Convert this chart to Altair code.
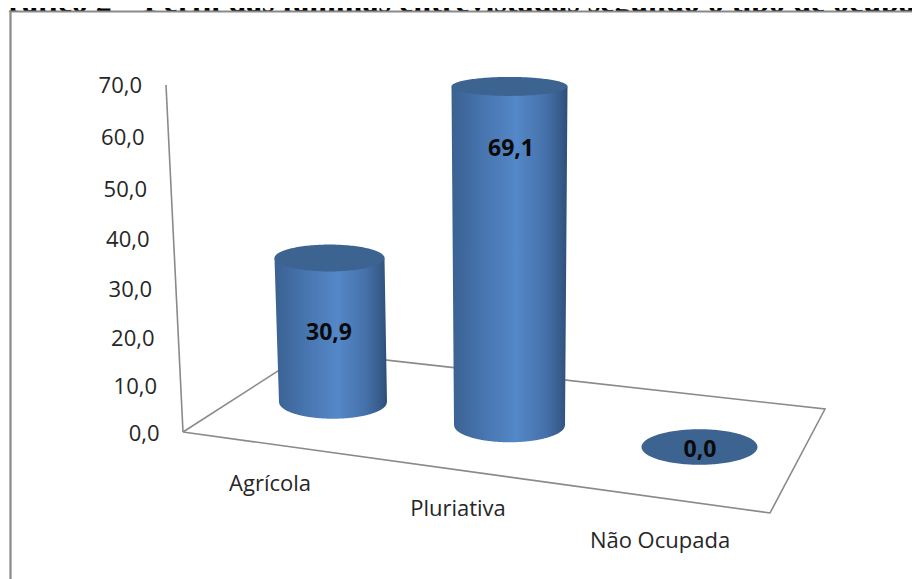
import altair as alt
import numpy as np
import pandas as pd

# ---- chart values
TITLE = "Gráfico 2 – Perfil das famílias entrevistadas segundo o tipo de ocupação"
categories = ["Agrícola", "Pluriativa", "Não Ocupada"]
values = [30.9, 69.1, 0.0]
value_labels = ["30,9", "69,1", "0,0"]
tick_values = [0, 10, 20, 30, 40, 50, 60, 70]
tick_labels = ["0,0", "10,0", "20,0", "30,0", "40,0", "50,0", "60,0", "70,0"]

# ---- page geometry of the oblique 3-D view
SANS = "Open Sans"
base_x = [333, 509.5, 699.5]
base_y = [402, 425, 447]
unit_px = [4.66, 4.9, 4.9]
lean_x = [-3.5, 0, 0]
rx_base = [54, 55.5, 58]
rx_top = [55, 58, 58]
cat_label_xy = [(270, 484), (458, 509), (660, 541)]
label_xy = [(329, 333), (511, 149), (700, 450)]

def ry_at(y):
    return 7.5 + 0.023 * y

def axis_y(v):
    return 434 - 4.671 * v - 0.00429 * v * v

X = alt.X("x:Q", scale=alt.Scale(domain=[8, 912], nice=False, zero=False), axis=None)
Y = alt.Y("y:Q", scale=alt.Scale(domain=[579, 8], nice=False, zero=False), axis=None)
Y2 = alt.Y2("y2:Q")

stops = [("#3a6191", 0), ("#4673ad", 0.25), ("#5488c8", 0.56), ("#4672ab", 0.8),
         ("#385e8f", 0.93), ("#2e4e76", 1)]
body_fill = alt.Gradient(gradient="linear", x1=0, x2=1, y1=0, y2=0,
                         stops=[alt.GradientStop(color=c, offset=o) for c, o in stops])
CAP = "#3d6391"
GREY = "#8a8a8a"


def ellipse_frame(cx, cy, rx, ry):
    t = np.linspace(np.pi, 0, 90)
    xs = cx + rx * np.cos(t)
    h = ry * np.sin(t)
    return pd.DataFrame({"x": xs, "y": cy - h, "y2": cy + h})


def body_frame(i):
    by = base_y[i]
    ty = by - values[i] * unit_px[i]
    tx = base_x[i] + lean_x[i]
    tl, tr = tx - rx_top[i], tx + rx_top[i]
    bl, br = base_x[i] - rx_base[i], base_x[i] + rx_base[i]
    xs = np.unique(np.concatenate([np.linspace(min(tl, bl), max(tr, br), 160), [tl, tr, bl, br]]))
    ry = ry_at(by)
    up, low = [], []
    for x in xs:
        u = ty
        if x < tl:
            u = ty + (by - ty) * (tl - x) / (tl - bl)
        elif x > tr:
            u = ty + (by - ty) * (x - tr) / (br - tr)
        if x < bl:
            l = ty + (by - ty) * (x - tl) / (bl - tl)
        elif x > br:
            l = ty + (by - ty) * (tr - x) / (tr - br)
        else:
            l = by + ry * np.sqrt(max(0, 1 - ((x - base_x[i]) / rx_base[i]) ** 2))
        up.append(u)
        low.append(l)
    return pd.DataFrame({"x": xs, "y": up, "y2": low})


layers = []

# title (runs off the top of the picture, cut by the frame)
layers.append(
    alt.Chart(pd.DataFrame({"x": [-17], "y": [11.5], "t": [TITLE]}))
    .mark_text(font="Liberation Serif", fontWeight="bold", fontSize=32, align="left",
               baseline="alphabetic", color="#000000")
    .encode(x=X, y=Y, text="t:N")
)

# white inside of the frame, so the title's descenders stop at the frame
layers.append(
    alt.Chart(pd.DataFrame({"x": [8], "x2": [912], "y": [11.5], "y2": [579]}))
    .mark_rect(color="white")
    .encode(x=X, x2="x2:Q", y=Y, y2=Y2)
)

# outer frame, wall axis and floor
fl, fr, br, bl = (183, 432), (770, 513), (825, 409), (308.5, 351.4)
frame_pts = [(10.5, 579), (10.5, 11.5), (912, 11.5)]
wall = [(166, 85), (183, 432)]
floor = [fl, fr, br, bl, fl]
frame = pd.DataFrame([{"x": p[0], "y": p[1], "s": "frame", "o": k} for k, p in enumerate(frame_pts)])
layers.append(
    alt.Chart(frame).mark_line(color=GREY, strokeWidth=2.2)
    .encode(x=X, y=Y, detail="s:N", order="o:Q")
)
seg = pd.DataFrame(
    [{"x": p[0], "y": p[1], "s": "wall", "o": k} for k, p in enumerate(wall)]
    + [{"x": p[0], "y": p[1], "s": "floor", "o": k} for k, p in enumerate(floor)]
)
layers.append(
    alt.Chart(seg).mark_line(color=GREY, strokeWidth=1.6)
    .encode(x=X, y=Y, detail="s:N", order="o:Q")
)

# cylinders
for i, v in enumerate(values):
    if v > 0:
        layers.append(
            alt.Chart(body_frame(i)).mark_area(color=body_fill, orient="vertical")
            .encode(x=X, y=Y, y2=Y2)
        )
    ty = base_y[i] - v * unit_px[i]
    layers.append(
        alt.Chart(ellipse_frame(base_x[i] + lean_x[i], ty, rx_top[i], ry_at(ty)))
        .mark_area(color=CAP, orient="vertical")
        .encode(x=X, y=Y, y2=Y2)
    )

# value-axis labels
ticks = pd.DataFrame({
    "x": [159.5 - 17.5 * v / 70 for v in tick_values],
    "y": [axis_y(v) for v in tick_values],
    "t": tick_labels,
})
layers.append(
    alt.Chart(ticks).mark_text(font=SANS, fontSize=22, align="right", baseline="middle", color="#262626")
    .encode(x=X, y=Y, text="t:N")
)

# category labels
cats = pd.DataFrame({"x": [p[0] for p in cat_label_xy], "y": [p[1] for p in cat_label_xy], "t": categories})
layers.append(
    alt.Chart(cats).mark_text(font=SANS, fontSize=22, align="center", baseline="middle", color="#262626")
    .encode(x=X, y=Y, text="t:N")
)

# data labels
dl = pd.DataFrame({"x": [p[0] for p in label_xy], "y": [p[1] for p in label_xy], "t": value_labels})
layers.append(
    alt.Chart(dl).mark_text(font=SANS, fontWeight="bold", fontSize=23, align="center", baseline="middle", color="#0a0a0a")
    .encode(x=X, y=Y, text="t:N")
)

chart = (
    alt.layer(*layers)
    .resolve_scale(x="shared", y="shared")
    .properties(width=904, height=571, padding=0, autosize=alt.AutoSizeParams(type="none"), background="white")
    .configure_view(stroke=None)
)
chart.save("out.html", embed_options={"renderer": "svg", "actions": False})
